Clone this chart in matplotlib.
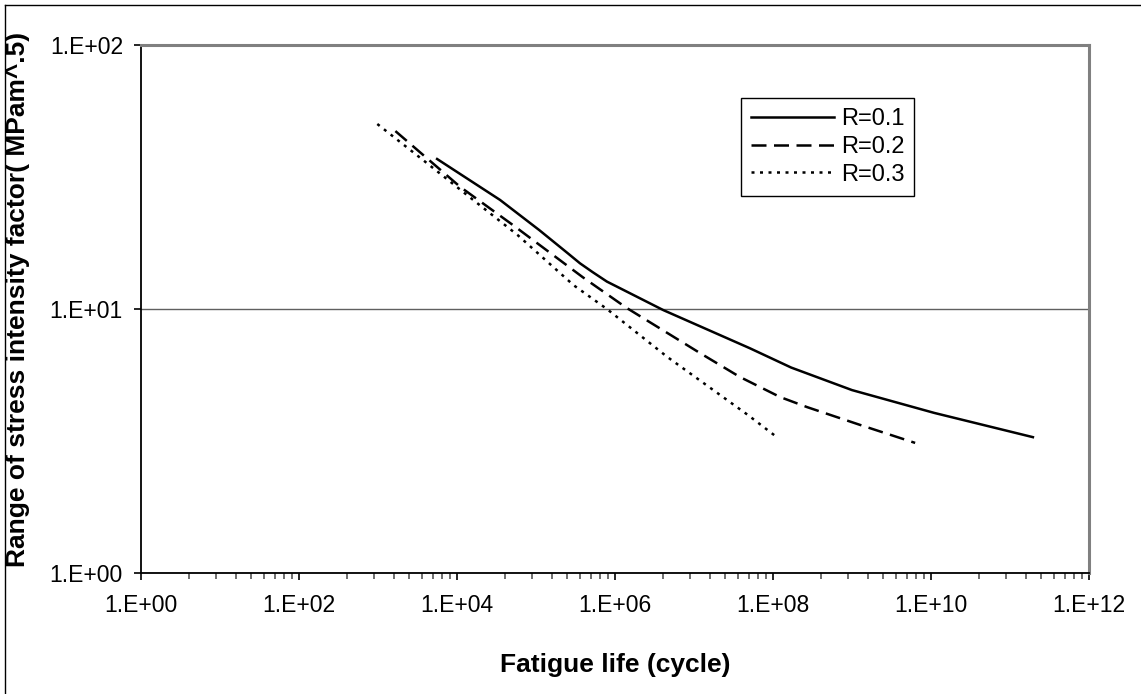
import numpy as np
import matplotlib.pyplot as plt
from matplotlib.ticker import FixedLocator, NullFormatter
from matplotlib.lines import Line2D

plt.rcParams['font.family'] = ['Liberation Sans', 'DejaVu Sans']

# fatigue life (cycles) and stress intensity range
n_r01 = [5.6e3, 3.5e4, 1.1e5, 2.5e5, 3.6e5, 5.2e5, 7.9e5, 1.15e6, 4.1e6, 5.1e7, 1.7e8, 1.0e9, 1.1e10, 1.95e11]
k_r01 = [37.0, 25.9, 19.9, 16.3, 14.9, 13.8, 12.7, 12.0, 9.9, 7.1, 6.0, 4.93, 4.04, 3.27]

n_r02 = [1.66e3, 1.1e4, 5.1e4, 3.9e5, 1.4e6, 1.2e7, 3.8e7, 1.23e8, 2.7e8, 1.26e9, 6.3e9]
k_r02 = [47.2, 29.0, 20.8, 13.2, 10.1, 6.8, 5.53, 4.64, 4.25, 3.64, 3.11]

n_r03 = [9.8e2, 3.7e3, 1.6e4, 5.8e4, 3.0e5, 7.9e5, 4.6e6, 4.8e7, 1.12e8]
k_r03 = [50.2, 36.7, 25.9, 19.1, 12.3, 10.0, 6.58, 3.97, 3.27]

series = [("R=0.1", n_r01, k_r01, '-'),
          ("R=0.2", n_r02, k_r02, (0, (6, 3))),
          ("R=0.3", n_r03, k_r03, (0, (1.2, 2.2)))]

W, H = 1141, 694
fig = plt.figure(figsize=(W / 100, H / 100), dpi=100)
ax = fig.add_axes([141 / W, 1 - 573 / H, 948 / W, 528 / H])

for lab, n, k, ls in series:
    ax.plot(n, k, color='black', lw=1.8, linestyle=ls, label=lab)

ax.set_xscale('log')
ax.set_yscale('log')
ax.set_xlim(1, 1e12)
ax.set_ylim(1, 100)

# excel style log-100 axis
ax.xaxis.set_major_locator(FixedLocator([100.0 ** i for i in range(7)]))
ax.xaxis.set_minor_locator(FixedLocator([k * k * 100.0 ** i for i in range(6) for k in range(2, 10)]))
ax.xaxis.set_minor_formatter(NullFormatter())
ax.yaxis.set_major_locator(FixedLocator([1, 10, 100]))
ax.yaxis.set_minor_locator(FixedLocator([]))

def fmt(v):
    return "1.E+%02d" % int(round(np.log10(v)))

ax.set_xticklabels([fmt(100.0 ** i) for i in range(7)])
ax.set_yticklabels([fmt(v) for v in [1, 10, 100]])
ax.tick_params(axis='both', which='major', length=5, width=1.2, labelsize=16.5, color='black')
ax.tick_params(axis='y', which='major', pad=8)
ax.tick_params(axis='x', which='major', pad=10)
ax.tick_params(axis='x', which='minor', length=4, width=1.2, color='#555555')

ax.grid(axis='y', which='major', color='#606060', lw=1)
ax.set_axisbelow(True)

for s in ['left', 'bottom']:
    ax.spines[s].set_color('black')
    ax.spines[s].set_linewidth(1.3)
for s in ['top', 'right']:
    ax.spines[s].set_color('#808080')
    ax.spines[s].set_linewidth(2.2)

fig.text(615 / W, 1 - 665 / H, 'Fatigue life (cycle)', ha='center', va='center',
         fontsize=19, fontweight='bold')
fig.text(18 / W, 1 - 299 / H, 'Range of stress intensity factor( MPam^.5)', rotation=90,
         ha='center', va='center', fontsize=19, fontweight='bold')

leg = ax.legend(loc='upper left', bbox_to_anchor=((741 - 141) / 948, (573 - 98) / 528),
                borderaxespad=0, fancybox=False, edgecolor='black', framealpha=1,
                fontsize=17, handlelength=3.5, handletextpad=0.3, labelspacing=0.25,
                borderpad=0.42)
leg.get_frame().set_linewidth(1.0)

# outer chart border
fig.add_artist(Line2D([5 / W, 5 / W], [0, 1 - 5 / H], transform=fig.transFigure, color='black', lw=1))
fig.add_artist(Line2D([5 / W, 1], [1 - 5 / H, 1 - 5 / H], transform=fig.transFigure, color='black', lw=1))

fig.savefig('out.png', dpi=100)
